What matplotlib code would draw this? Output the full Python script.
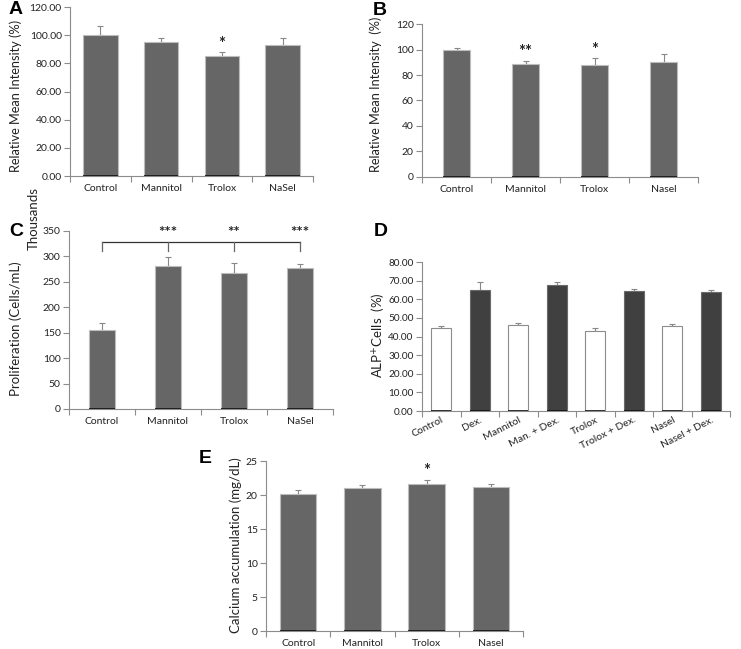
import numpy as np
import matplotlib
matplotlib.use('Agg')
import matplotlib.pyplot as plt
from matplotlib.ticker import FormatStrFormatter

plt.rcParams['font.family'] = ['Lato', 'DejaVu Sans']

# 数据
groups_a = ['Control', 'Mannitol', 'Trolox', 'NaSel']
mean_a = [100.0, 95.0, 85.0, 93.2]
err_a = [6.2, 3.0, 2.8, 4.5]
star_a = ['', '', '*', '']

groups_b = ['Control', 'Mannitol', 'Trolox', 'Nasel']
mean_b = [100.0, 88.5, 87.5, 90.2]
err_b = [1.5, 2.5, 5.5, 6.0]
star_b = ['', '**', '*', '']

groups_c = ['Control', 'Mannitol', 'Trolox', 'NaSel']
mean_c = [155, 281, 268, 278]
err_c = [15, 17, 19, 8]
star_c = ['', '***', '**', '***']

groups_d = ['Control', 'Dex.', 'Mannitol', 'Man. + Dex.', 'Trolox', 'Trolox + Dex.',
            'Nasel', 'Nasel + Dex.']
mean_d = [44.3, 65.0, 46.2, 67.8, 42.8, 64.5, 45.8, 63.8]
err_d = [1.4, 4.0, 1.2, 1.5, 1.5, 0.8, 0.8, 1.2]

groups_e = ['Control', 'Mannitol', 'Trolox', 'Nasel']
mean_e = [20.2, 21.1, 21.6, 21.2]
err_e = [0.6, 0.4, 0.6, 0.4]
star_e = ['', '', '*', '']

BAR = '#666666'
DARK = '#404040'
AXIS = '#8c8c8c'
TXT = '#222222'


# Excel风格的坐标轴
def style_axes(ax, n, ymax, ystep, fmt, ysize=7.5):
    for s in ['top', 'right']:
        ax.spines[s].set_visible(False)
    for s in ['left', 'bottom']:
        ax.spines[s].set_color(AXIS)
        ax.spines[s].set_linewidth(0.8)
    ax.set_xlim(-0.5, n - 0.5)
    ax.set_ylim(0, ymax)
    ax.set_yticks(np.arange(0, ymax + ystep / 2, ystep))
    ax.yaxis.set_major_formatter(FormatStrFormatter(fmt))
    ax.tick_params(axis='y', direction='out', length=4, color=AXIS, labelsize=ysize,
                   labelcolor=TXT, pad=2)
    # 刻度放在分类之间
    ax.set_xticks(np.arange(-0.5, n, 1.0))
    ax.set_xticklabels([])
    ax.tick_params(axis='x', which='major', direction='out', length=4, color=AXIS)
    ax.set_xticks(np.arange(n), minor=True)
    ax.tick_params(axis='x', which='minor', length=0, labelsize=7.5, labelcolor=TXT, pad=6)


def draw_bars(ax, means, errs, width, colors, edges):
    x = np.arange(len(means))
    ax.bar(x, means, width=width, color=colors, edgecolor=edges, linewidth=0.8, zorder=2)
    ax.errorbar(x, means, yerr=[np.zeros(len(errs)), errs], fmt='none', ecolor='#888888',
                elinewidth=0.8, capsize=2.5, capthick=0.8, zorder=1)
    ax.hlines(np.zeros(len(x)), x - width / 2, x + width / 2, colors='#111111',
              linewidth=1.2, zorder=3)
    return x


def draw_stars(ax, x, means, errs, stars, offset):
    for a, m, e, s in zip(x, means, errs, stars):
        if s:
            ax.text(a, m + e + offset, s, ha='center', va='bottom', fontsize=12,
                    fontweight='bold', color=TXT)


fig = plt.figure(figsize=(7.41, 6.49), dpi=100)

# A
axA = fig.add_axes([0.0945, 0.7288, 0.328, 0.2604])
style_axes(axA, 4, 120, 20, '%.2f')
x = draw_bars(axA, mean_a, err_a, 0.57, BAR, '#bdbdbd')
draw_stars(axA, x, mean_a, err_a, star_a, 0.5)
axA.set_xticklabels(groups_a, minor=True)
fig.text(0.021, 0.852, 'Relative Mean Intensity (%)', rotation=90, ha='center', va='center',
         fontsize=9.2, color=TXT)
fig.text(0.012, 0.985, 'A', fontsize=14, fontweight='bold', family='Liberation Sans', va='center')

# B
axB = fig.add_axes([0.5695, 0.7273, 0.3725, 0.2357])
style_axes(axB, 4, 120, 20, '%d')
x = draw_bars(axB, mean_b, err_b, 0.4, BAR, '#bdbdbd')
draw_stars(axB, x, mean_b, err_b, star_b, 0.5)
axB.set_xticklabels(groups_b, minor=True)
fig.text(0.507, 0.855, 'Relative Mean Intensity  (%)', rotation=90, ha='center', va='center',
         fontsize=9.2, color=TXT)
fig.text(0.503, 0.984, 'B', fontsize=14, fontweight='bold', family='Liberation Sans', va='center')

# C
axC = fig.add_axes([0.0931, 0.3698, 0.3563, 0.2743])
style_axes(axC, 4, 350, 50, '%d')
x = draw_bars(axC, mean_c, err_c, 0.4, BAR, '#bdbdbd')
axC.set_xticklabels(groups_c, minor=True)
# 显著性括号
axC.plot([x[0], x[-1]], [328, 328], color='#333333', linewidth=0.9, clip_on=False)
for a in x:
    axC.plot([a, a], [310, 328], color='#666666', linewidth=0.9, clip_on=False)
for a, s in zip(x, star_c):
    if s:
        axC.text(a, 333, s, ha='center', va='bottom', fontsize=11, fontweight='bold',
                 color=TXT, clip_on=False)
fig.text(0.021, 0.493, 'Proliferation (Cells/mL)', rotation=90, ha='center', va='center',
         fontsize=9.5, color=TXT)
fig.text(0.045, 0.663, 'Thousands', rotation=90, ha='center', va='center',
         fontsize=9.5, color=TXT)
fig.text(0.012, 0.643, 'C', fontsize=14, fontweight='bold', family='Liberation Sans', va='center')

# D
axD = fig.add_axes([0.5695, 0.3667, 0.4157, 0.2296])
style_axes(axD, 8, 80, 10, '%.2f', ysize=7.2)
cols_d = ['white', DARK] * 4
edges_d = ['#8c8c8c', '#6a6a6a'] * 4
x = draw_bars(axD, mean_d, err_d, 0.52, cols_d, edges_d)
axD.set_xticklabels(groups_d, minor=True, rotation=27, ha='right', rotation_mode='anchor')
axD.tick_params(axis='x', which='minor', pad=3)
fig.text(0.509, 0.483, 'ALP$^{+}$Cells  (%)', rotation=90, ha='center', va='center',
         fontsize=9.5, color=TXT)
fig.text(0.505, 0.643, 'D', fontsize=14, fontweight='bold', family='Liberation Sans', va='center')

# E
axE = fig.add_axes([0.359, 0.0277, 0.3468, 0.2619])
style_axes(axE, 4, 25, 5, '%d')
x = draw_bars(axE, mean_e, err_e, 0.57, BAR, '#bdbdbd')
draw_stars(axE, x, mean_e, err_e, star_e, 0.1)
axE.set_xticklabels(groups_e, minor=True)
fig.text(0.318, 0.16, 'Calcium accumulation (mg/dL)', rotation=90, ha='center', va='center',
         fontsize=9.5, color=TXT)
fig.text(0.268, 0.293, 'E', fontsize=14, fontweight='bold', family='Liberation Sans', va='center')

fig.savefig('out.png', dpi=100, facecolor='white')
